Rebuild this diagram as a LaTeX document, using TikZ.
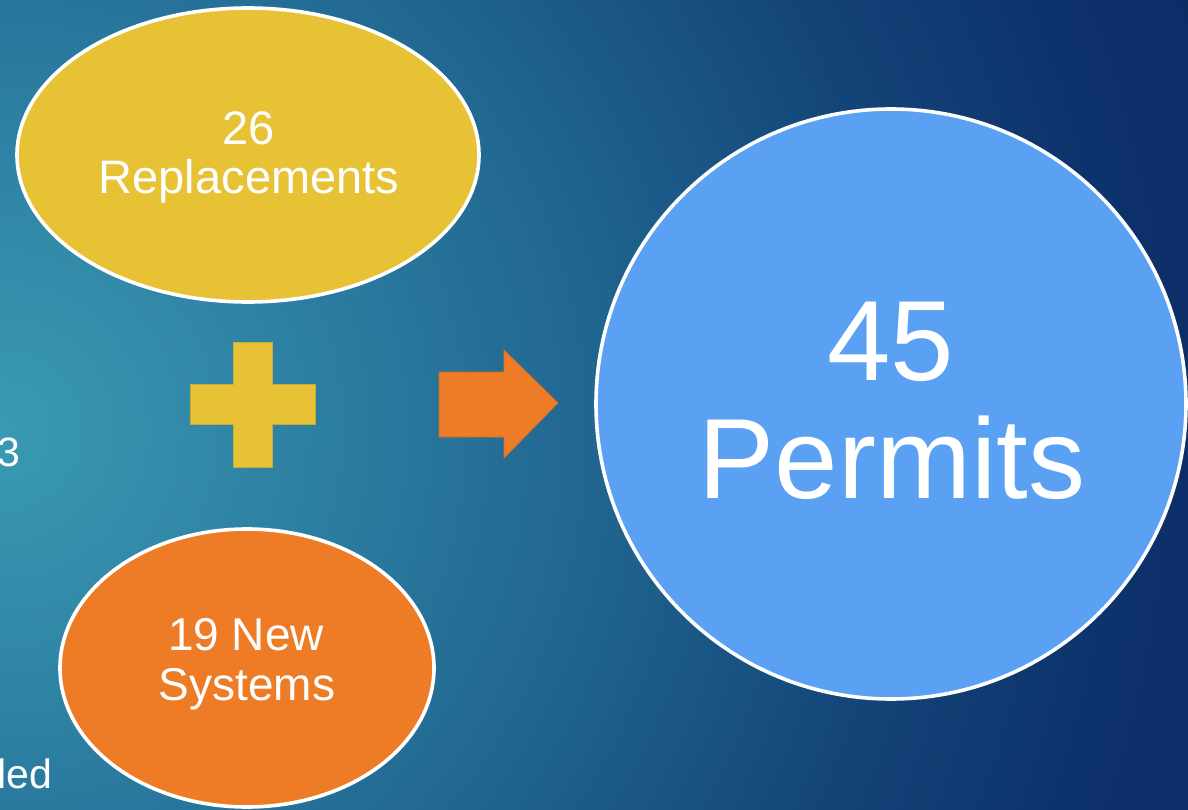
\documentclass[tikz,border=0pt]{standalone}
\usepackage{fontspec}
\setmainfont{Liberation Sans}
\usetikzlibrary{shapes.geometric}
\definecolor{ylw}{RGB}{230,194,52}
\definecolor{ylwline}{RGB}{200,170,60}
\definecolor{org}{RGB}{238,123,37}
\definecolor{orgline}{RGB}{215,108,40}
\definecolor{blu}{RGB}{91,161,243}
\pgfdeclareradialshading{bgshade}{\pgfpoint{0bp}{0bp}}{%
 rgb(0bp)=(0.227,0.604,0.698);
 rgb(350bp)=(0.169,0.486,0.627);
 rgb(600bp)=(0.125,0.396,0.565);
 rgb(900bp)=(0.075,0.267,0.471);
 rgb(1150bp)=(0.051,0.188,0.416);
 rgb(1320bp)=(0.043,0.165,0.392)}
\tikzset{
  bubble/.style={ellipse, draw=white, line width=3.6pt, inner sep=0pt},
  txt/.style={text=white, inner sep=0pt, anchor=base},
}
\begin{document}
\begin{tikzpicture}[x=1pt,y=-1pt]
\useasboundingbox (0,0) rectangle (1188,810);
\begin{scope}
\clip (0,0) rectangle (1188,810);
\node[inner sep=0pt] (bg) at (0,430) {\pgfuseshading{bgshade}};
\end{scope}
% left cut-off text
\node[txt, anchor=base east, font=\fontsize{41}{41}\selectfont] (three) at (21,466) {3};
\node[txt, anchor=base west, font=\fontsize{41}{41}\selectfont] (led) at (-3,788) {led};
% ellipses
\node[bubble, fill=ylw, minimum width=462pt, minimum height=294pt] (rep) at (248,155) {};
\node[bubble, fill=org, minimum width=374pt, minimum height=278pt] (new) at (247,668) {};
\node[bubble, circle, fill=blu, minimum size=590pt] (perm) at (891,404) {};
% texts
\node[txt, font=\fontsize{47}{47}\selectfont] (t26) at (249,145) {26};
\node[txt, font=\fontsize{47}{47}\selectfont] (trep) at (249,194) {Replacements};
\node[txt, font=\fontsize{46}{46}\selectfont] (t19) at (246,650) {19 New};
\node[txt, font=\fontsize{46}{46}\selectfont] (tsys) at (247,700) {Systems};
\node[txt, font=\fontsize{114}{114}\selectfont] (t45) at (891,380) {45};
\node[txt, font=\fontsize{114}{114}\selectfont] (tperm) at (892,498) {Permits};
% plus sign
\filldraw[fill=ylw, draw=ylwline, line width=0.8pt]
  (233,342) -- (272,342) -- (272,384) -- (315,384) -- (315,424) -- (272,424)
  -- (272,467) -- (233,467) -- (233,424) -- (190,424) -- (190,384) -- (233,384) -- cycle;
% arrow
\filldraw[fill=org, draw=orgline, line width=0.8pt]
  (439,372) -- (504,372) -- (504,350) -- (558,403) -- (504,458) -- (504,437) -- (439,437) -- cycle;
\end{tikzpicture}
\end{document}
